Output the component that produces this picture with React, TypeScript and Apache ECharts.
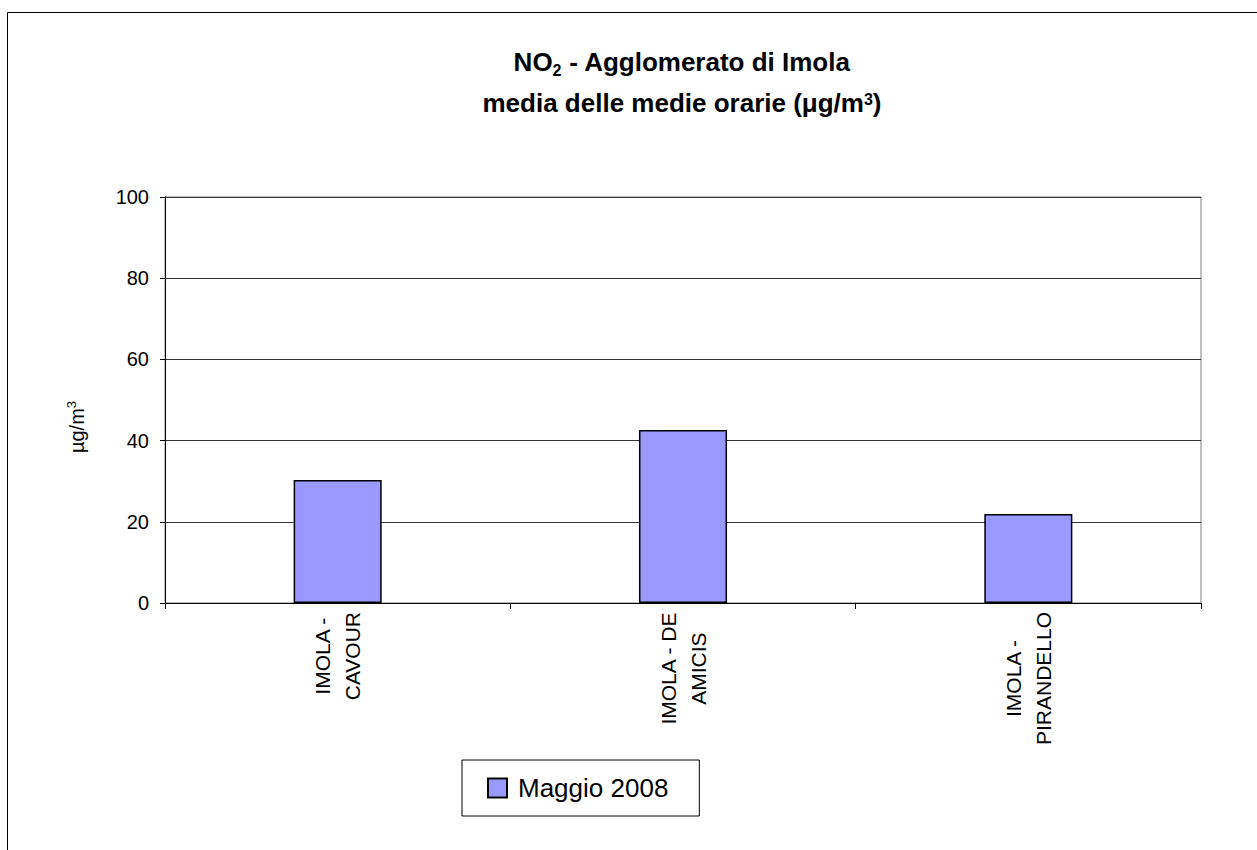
import React, { useEffect, useRef } from 'react';
import * as echarts from 'echarts';

const FONT = 'Arial, "Liberation Sans", sans-serif';

const categories = ['IMOLA -\nCAVOUR', 'IMOLA - DE\nAMICIS', 'IMOLA -\nPIRANDELLO'];
const values = [30.3, 42.6, 21.9];
const seriesName = 'Maggio 2008';
const yMin = 0;
const yMax = 100;
const yStep = 20;
const titleLine1 = '{b|NO}{sub|2}{b| - Agglomerato di Imola}';
const titleLine2 = '{b|media delle medie orarie (μg/m}{sup|3}{b|)}';
const yAxisName = '{a|µg/m}{s|3}';

export default function App() {
  const ref = useRef<HTMLDivElement>(null);
  useEffect(() => {
    const chart = echarts.init(ref.current!, null, { renderer: 'svg' });
    chart.setOption({
      animation: false,
      backgroundColor: '#ffffff',
      textStyle: { fontFamily: FONT },
      graphic: [
        {
          type: 'rect',
          z: -10,
          shape: { x: 7.5, y: 12.5, width: 1400, height: 1000 },
          style: { fill: 'none', stroke: '#000', lineWidth: 1 },
        },
        {
          type: 'text',
          x: 682,
          y: 41,
          style: {
            text: titleLine1 + '\n' + titleLine2,
            align: 'center',
            verticalAlign: 'top',
            fill: '#000',
            rich: {
              b: { fontSize: 26, fontWeight: 'bold', fontFamily: FONT, lineHeight: 41, verticalAlign: 'middle', fill: '#000', color: '#000' },
              sub: { fontSize: 16, fontWeight: 'bold', fontFamily: FONT, verticalAlign: 'middle', padding: [17, 0, 0, 0], fill: '#000', color: '#000' },
              sup: { fontSize: 16, fontWeight: 'bold', fontFamily: FONT, verticalAlign: 'middle', padding: [0, 0, 7, 0], fill: '#000', color: '#000' },
            },
          },
        },
        {
          type: 'text',
          x: 77,
          y: 427,
          rotation: Math.PI / 2,
          style: {
            text: yAxisName,
            align: 'center',
            verticalAlign: 'middle',
            fill: '#000',
            rich: {
              a: { fontSize: 20, fontFamily: FONT, lineHeight: 24, verticalAlign: 'middle', fill: '#000', color: '#000' },
              s: { fontSize: 13, fontFamily: FONT, lineHeight: 13, verticalAlign: 'top', fill: '#000', color: '#000' },
            },
          },
        },
      ],
      grid: {
        left: 165,
        top: 197,
        right: 56,
        bottom: 247,
        show: true,
        borderColor: '#808080',
        borderWidth: 1,
        backgroundColor: '#ffffff',
      },
      legend: {
        data: [seriesName],
        left: 462,
        top: 760,
        orient: 'horizontal',
        icon: 'rect',
        itemWidth: 19,
        itemHeight: 19,
        borderColor: '#000',
        borderWidth: 1,
        padding: [15, 31, 15, 25],
        textStyle: { fontSize: 26, color: '#000', fontFamily: FONT, padding: [0, 0, 0, 6] },
      },
      xAxis: {
        type: 'category',
        data: categories,
        axisLine: { show: true, lineStyle: { color: '#000', width: 1 } },
        axisTick: { show: true, length: 6, alignWithLabel: false, lineStyle: { color: '#000' } },
        splitLine: { show: false },
        axisLabel: {
          interval: 0,
          rotate: 90,
          margin: 9,
          color: '#000',
          fontSize: 21,
          fontFamily: FONT,
          lineHeight: 30,
          formatter: (v: string) => v.split('\n').map((l) => `{c|${l}}`).join('\n'),
          rich: {
            c: { align: 'center', fontSize: 21, fontFamily: FONT, lineHeight: 30, color: '#000' },
          },
        },
      },
      yAxis: {
        type: 'value',
        min: yMin,
        max: yMax,
        interval: yStep,
        axisLine: { show: true, lineStyle: { color: '#000', width: 1 } },
        axisTick: { show: true, length: 5, lineStyle: { color: '#000' } },
        splitLine: { show: true, lineStyle: { color: '#333', width: 1 } },
        axisLabel: { color: '#000', fontSize: 20, fontFamily: FONT, margin: 16 },
      },
      series: [
        {
          name: seriesName,
          type: 'bar',
          data: values,
          barWidth: '25.5%',
          itemStyle: { color: '#9999FF', borderColor: '#000', borderWidth: 1.5 },
        },
      ],
    });
    return () => chart.dispose();
  }, []);
  return (
    <div
      ref={ref}
      style={{ position: 'absolute', left: 0, top: 0, width: 1257, height: 850, background: '#fff' }}
    />
  );
}
